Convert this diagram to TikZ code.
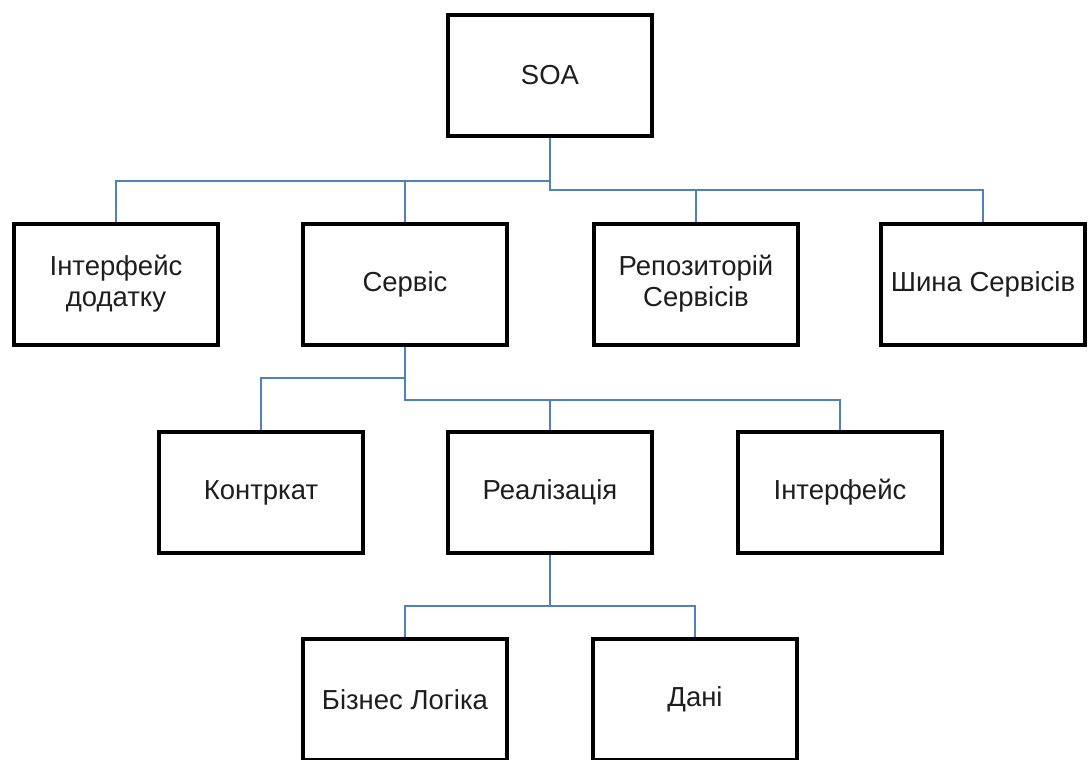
\documentclass[tikz,border=0pt]{standalone}
\usepackage{fontspec}
\setmainfont{Liberation Sans}
\usetikzlibrary{backgrounds}
\definecolor{linkblue}{RGB}{79,129,189}
\definecolor{inkdark}{RGB}{30,30,30}
\begin{document}
\begin{tikzpicture}[x=1pt,y=-1pt,
  box/.style={draw=black, line width=4pt, fill=white, rectangle,
    minimum width=204pt, minimum height=121pt, inner sep=0pt,
    align=center, text=inkdark,
    font=\fontsize{27.5}{31}\selectfont},
  conn/.style={draw=linkblue, line width=2.4pt}]
\useasboundingbox (0,0) rectangle (1088,760);
% level 0
\node[box] (soa)  at (550,75.5) {SOA};
% level 1
\node[box] (app)  at (116,284)  {Інтерфейс\\додатку};
\node[box] (serv) at (405,284)  {Сервіс};
\node[box] (repo) at (696,284)  {Репозиторій\\Сервісів};
\node[box] (bus)  at (983,284)  {Шина Сервісів};
% level 2
\node[box] (contr) at (261,492.5) {Контркат};
\node[box] (impl)  at (550,492.5) {Реалізація};
\node[box] (iface) at (840,492.5) {Інтерфейс};
% level 3
\node[box] (logic) at (405,699.5) {Бізнес Логіка};
\node[box] (data)  at (695,699.5) {Дані};
% heights of the branch lines
\coordinate (b1) at (0,181);
\coordinate (b2) at (0,190);
\coordinate (b3) at (0,378);
\coordinate (b4) at (0,400);
\coordinate (b5) at (0,606);
\begin{scope}[on background layer]
  \draw[conn] (soa.south) |- (app.north |- b1) -- (app.north);
  \draw[conn] (serv.north |- b1) -- (serv.north);
  \draw[conn] (soa.south |- b1) |- (bus.north |- b2) -- (bus.north);
  \draw[conn] (repo.north |- b2) -- (repo.north);
  \draw[conn] (serv.south) |- (contr.north |- b3) -- (contr.north);
  \draw[conn] (serv.south |- b3) |- (iface.north |- b4) -- (iface.north);
  \draw[conn] (impl.north |- b4) -- (impl.north);
  \draw[conn] (impl.south) |- (logic.north |- b5) -- (logic.north);
  \draw[conn] (impl.south |- b5) -| (data.north);
\end{scope}
\end{tikzpicture}
\end{document}
